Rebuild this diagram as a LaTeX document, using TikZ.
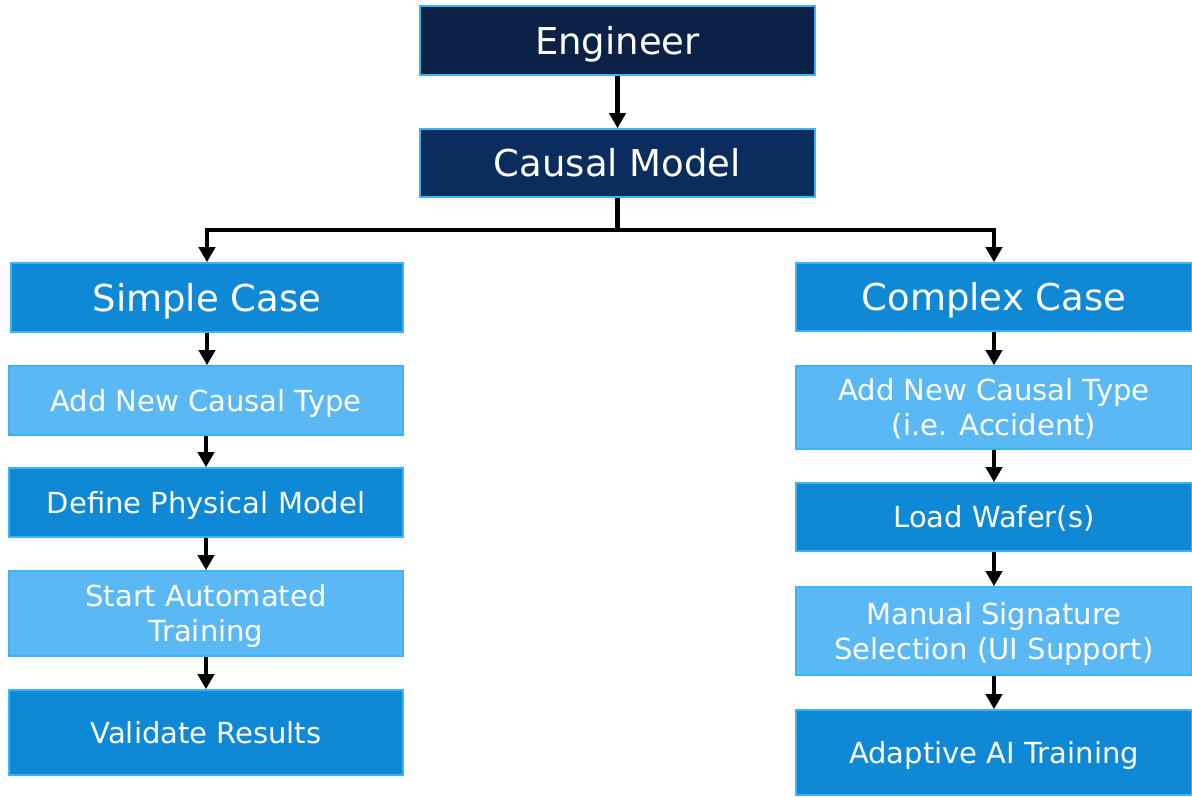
\documentclass[tikz,border=0pt]{standalone}
\usepackage{fontspec}
\setmainfont{DejaVu Sans}
\usetikzlibrary{arrows.meta}
\definecolor{navyA}{HTML}{0B2145}
\definecolor{navyB}{HTML}{0A2D5E}
\definecolor{midblue}{HTML}{0F88D6}
\definecolor{lightblue}{HTML}{5AB8F5}
\definecolor{edgeblue}{HTML}{3AB4F5}
% centred text block, lowered inside its own extent so the letters sit mid-box
\newcommand\boxlines[1]{\raisebox{-0.13em}[\height][\depth]{\begin{tabular}{@{}c@{}}#1\end{tabular}}}
\tikzset{
  box/.style={draw=edgeblue, line width=1.6pt, inner sep=0pt, text=white},
  bigbox/.style={box, font=\fontsize{37}{44}\selectfont},
  smallbox/.style={box, font=\fontsize{29}{35}\selectfont},
  flow/.style={line width=4.2pt, -{Triangle[width=16pt,length=15pt]}},
  wire/.style={line width=4.2pt}
}
\begin{document}
\begin{tikzpicture}[x=1pt,y=-1pt]
\useasboundingbox (0,0) rectangle (1192,796);

% top of the hierarchy
\node[bigbox, fill=navyA, minimum width=395pt, minimum height=69pt] (eng) at (617.5,40.5) {\boxlines{Engineer}};
\node[bigbox, fill=navyB, minimum width=395pt, minimum height=68pt] (cm) at (617.5,163) {\boxlines{Causal Model}};

% simple case column
\node[bigbox, fill=midblue, minimum width=392pt, minimum height=69pt] (sc) at (207,297.5) {\boxlines{Simple Case}};
\node[smallbox, fill=lightblue, minimum width=394pt, minimum height=69pt] (s1) at (206,400.5) {\boxlines{Add New Causal Type}};
\node[smallbox, fill=midblue, minimum width=394pt, minimum height=69pt] (s2) at (206,502.5) {\boxlines{Define Physical Model}};
\node[smallbox, fill=lightblue, minimum width=394pt, minimum height=85pt] (s3) at (206,613.5) {\boxlines{Start Automated\\Training}};
\node[smallbox, fill=midblue, minimum width=394pt, minimum height=85pt] (s4) at (206,732.5) {\boxlines{Validate Results}};

% complex case column
\node[bigbox, fill=midblue, minimum width=396pt, minimum height=68pt] (cc) at (994,297) {\boxlines{Complex Case}};
\node[smallbox, fill=lightblue, minimum width=396pt, minimum height=83pt] (c1) at (994,407.5) {\boxlines{Add New Causal Type\\(i.e. Accident)}};
\node[smallbox, fill=midblue, minimum width=396pt, minimum height=68pt] (c2) at (994,517) {\boxlines{Load Wafer(s)}};
\node[smallbox, fill=lightblue, minimum width=396pt, minimum height=88pt] (c3) at (994,631) {\boxlines{Manual Signature\\Selection (UI Support)}};
\node[smallbox, fill=midblue, minimum width=396pt, minimum height=85pt] (c4) at (994,752.5) {\boxlines{Adaptive AI Training}};

% branching connector
\coordinate (split) at (617.5,230);
\draw[flow] (eng.south) -- (cm.north);
\draw[wire] (cm.south) -- (split);
\draw[flow] (split) -| (sc.north);
\draw[flow] (split) -| (cc.north);

% steps
\draw[flow] (sc.south) -- (s1.north -| sc.south);
\draw[flow] (s1.south) -- (s2.north);
\draw[flow] (s2.south) -- (s3.north);
\draw[flow] (s3.south) -- (s4.north);
\draw[flow] (cc.south) -- (c1.north);
\draw[flow] (c1.south) -- (c2.north);
\draw[flow] (c2.south) -- (c3.north);
\draw[flow] (c3.south) -- (c4.north);
\end{tikzpicture}
\end{document}
